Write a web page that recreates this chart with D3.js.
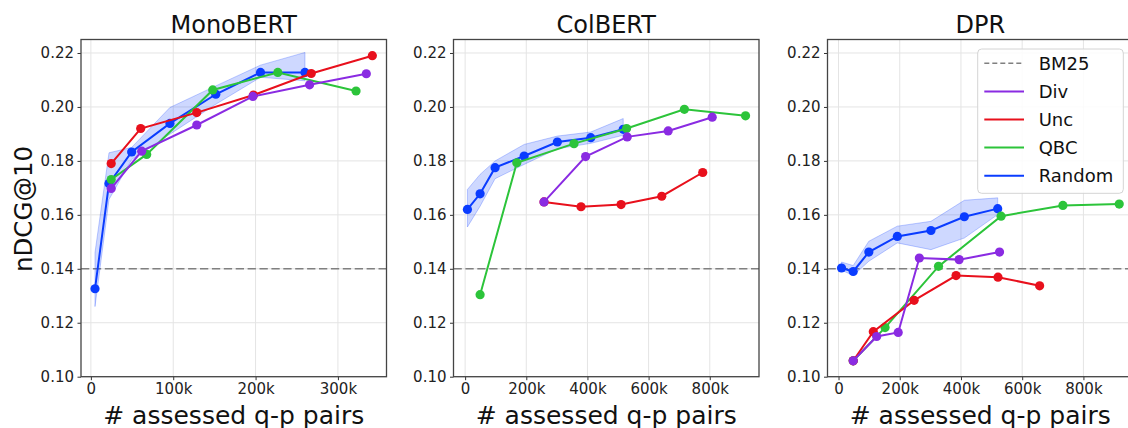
<!DOCTYPE html>
<html>
<head>
<meta charset="utf-8">
<script src="https://cdn.jsdelivr.net/npm/d3@7"></script>
<style>
  html, body { margin: 0; padding: 0; background: #fff; }
  svg { display: block; font-family: "DejaVu Sans", sans-serif; }
</style>
</head>
<body>
<svg id="chart" width="1128" height="428"></svg>
<script>
// ---------- data ----------
const panelTitles = ["MonoBERT", "ColBERT", "DPR"];
const legendLabels = ["BM25", "Div", "Unc", "QBC", "Random"];
const bm25Value = 0.14;
const yTickValues = [0.10, 0.12, 0.14, 0.16, 0.18, 0.20, 0.22];
const monoXTicks = [0, 100000, 200000, 300000];
const wideXTicks = [0, 200000, 400000, 600000, 800000];

// MonoBERT
const monoRandomX  = [5000, 22000, 49500, 96000, 151700, 206000, 260000];
const monoRandomY  = [0.1326, 0.1716, 0.1833, 0.1939, 0.2047, 0.2128, 0.2128];
const monoRandomLo = [0.1260, 0.1657, 0.1805, 0.1899, 0.2010, 0.2110, 0.2097];
const monoRandomHi = [0.1460, 0.1830, 0.1850, 0.1998, 0.2078, 0.2155, 0.2202];
const monoQbcX = [24700, 67800, 148000, 227000, 322000];
const monoQbcY = [0.1731, 0.1824, 0.2063, 0.2128, 0.2059];
const monoUncX = [24700, 60500, 128600, 197500, 267600, 341800];
const monoUncY = [0.1790, 0.1920, 0.1979, 0.2044, 0.2124, 0.2190];
const monoDivX = [24700, 61700, 128600, 196700, 265600, 334500];
const monoDivY = [0.1698, 0.1836, 0.1933, 0.2039, 0.2082, 0.2123];

// ColBERT
const colRandomX  = [7500, 49000, 98000, 193000, 301600, 410800, 517000];
const colRandomY  = [0.1620, 0.1678, 0.1775, 0.1818, 0.1870, 0.1886, 0.1917];
const colRandomLo = [0.1555, 0.1632, 0.1734, 0.1787, 0.1845, 0.1865, 0.1895];
const colRandomHi = [0.1694, 0.1750, 0.1800, 0.1861, 0.1892, 0.1907, 0.1957];
const colQbcX = [49000, 169000, 356000, 528000, 717000, 917000];
const colQbcY = [0.1304, 0.1793, 0.1864, 0.1920, 0.1991, 0.1967];
const colUncX = [258000, 379000, 510000, 643000, 777000];
const colUncY = [0.1648, 0.1630, 0.1638, 0.1669, 0.1757];
const colDivX = [258000, 394000, 530000, 664000, 808000];
const colDivY = [0.1648, 0.1816, 0.1889, 0.1911, 0.1962];

// DPR
const dprRandomX  = [9800, 48000, 99000, 192000, 302000, 411000, 520000];
const dprRandomY  = [0.1403, 0.1390, 0.1462, 0.1520, 0.1542, 0.1593, 0.1623];
const dprRandomLo = [0.1395, 0.1375, 0.1428, 0.1496, 0.1471, 0.1514, 0.1601];
const dprRandomHi = [0.1425, 0.1412, 0.1502, 0.1558, 0.1576, 0.1654, 0.1663];
const dprQbcX = [48000, 152000, 326600, 531000, 733000, 917000];
const dprQbcY = [0.1059, 0.1182, 0.1409, 0.1595, 0.1635, 0.1640];
const dprUncX = [48000, 113600, 247000, 384000, 521000, 657000];
const dprUncY = [0.1059, 0.1167, 0.1283, 0.1375, 0.1369, 0.1337];
const dprDivX = [48000, 124600, 195000, 264000, 394000, 526000];
const dprDivY = [0.1059, 0.1149, 0.1164, 0.1440, 0.1434, 0.1462];

// ---------- styles ----------
const colors = { BM25: "#808080", Div: "#8a2be2", Unc: "#e8101c", QBC: "#2cc43a", Random: "#0a3cff" };

const panels = [
  { title: panelTitles[0], left: 81, xDomain: [-12000, 359000], xTicks: monoXTicks,
    random: [monoRandomX, monoRandomY, monoRandomLo, monoRandomHi],
    series: [["QBC", monoQbcX, monoQbcY], ["Unc", monoUncX, monoUncY], ["Div", monoDivX, monoDivY]] },
  { title: panelTitles[1], left: 453.5, xDomain: [-38000, 961000], xTicks: wideXTicks,
    random: [colRandomX, colRandomY, colRandomLo, colRandomHi],
    series: [["QBC", colQbcX, colQbcY], ["Unc", colUncX, colUncY], ["Div", colDivX, colDivY]] },
  { title: panelTitles[2], left: 827.5, xDomain: [-36000, 962000], xTicks: wideXTicks,
    random: [dprRandomX, dprRandomY, dprRandomLo, dprRandomHi],
    series: [["QBC", dprQbcX, dprQbcY], ["Unc", dprUncX, dprUncY], ["Div", dprDivX, dprDivY]] }
];

const svg = d3.select("#chart");
const plotTop = 39.5, plotBottom = 376.7, pw = 305.5;
const y = d3.scaleLinear().domain([0.10, 0.225]).range([plotBottom, plotTop]);
const fmtX = d => d === 0 ? "0" : (d / 1000) + "k";

panels.forEach((p, i) => {
  const x = d3.scaleLinear().domain(p.xDomain).range([p.left, p.left + pw]);
  const g = svg.append("g");
  const clipId = "clip" + i;
  svg.append("clipPath").attr("id", clipId).append("rect")
    .attr("x", p.left).attr("y", plotTop).attr("width", pw).attr("height", plotBottom - plotTop);

  // grid
  g.append("g").selectAll("line").data(yTickValues).join("line")
    .attr("x1", p.left).attr("x2", p.left + pw)
    .attr("y1", d => y(d)).attr("y2", d => y(d))
    .attr("stroke", "#e4e4e4").attr("stroke-width", 1);
  g.append("g").selectAll("line").data(p.xTicks).join("line")
    .attr("x1", d => x(d)).attr("x2", d => x(d))
    .attr("y1", plotTop).attr("y2", plotBottom)
    .attr("stroke", "#e4e4e4").attr("stroke-width", 1);

  const plot = g.append("g").attr("clip-path", `url(#${clipId})`);

  // BM25
  plot.append("line")
    .attr("x1", p.left).attr("x2", p.left + pw)
    .attr("y1", y(bm25Value)).attr("y2", y(bm25Value))
    .attr("stroke", colors.BM25).attr("stroke-width", 1.5)
    .attr("stroke-dasharray", "8.3,3.6");

  // Random band
  const [rx, ry, rlo, rhi] = p.random;
  const bandData = rx.map((v, k) => ({ x: v, lo: rlo[k], hi: rhi[k] }));
  plot.append("path").datum(bandData)
    .attr("d", d3.area().x(d => x(d.x)).y0(d => y(d.lo)).y1(d => y(d.hi)))
    .attr("fill", colors.Random).attr("fill-opacity", 0.2)
    .attr("stroke", colors.Random).attr("stroke-opacity", 0.25).attr("stroke-width", 1);

  const drawSeries = (name, xs, ys) => {
    const pts = xs.map((v, k) => [v, ys[k]]);
    plot.append("path").datum(pts)
      .attr("d", d3.line().x(d => x(d[0])).y(d => y(d[1])))
      .attr("fill", "none").attr("stroke", colors[name]).attr("stroke-width", 2);
    plot.append("g").selectAll("circle").data(pts).join("circle")
      .attr("cx", d => x(d[0])).attr("cy", d => y(d[1])).attr("r", 4.6)
      .attr("fill", colors[name]);
  };
  drawSeries("Random", rx, ry);
  p.series.forEach(s => drawSeries(s[0], s[1], s[2]));

  // axes
  const yAxis = d3.axisLeft(y).tickValues(yTickValues).tickFormat(d3.format(".2f")).tickSize(3.5).tickPadding(3.5);
  const xAxis = d3.axisBottom(x).tickValues(p.xTicks).tickFormat(fmtX).tickSize(3.5).tickPadding(3.5);
  const ya = g.append("g").attr("transform", `translate(${p.left},0)`).call(yAxis);
  const xa = g.append("g").attr("transform", `translate(0,${plotBottom})`).call(xAxis);
  [ya, xa].forEach(a => {
    a.select(".domain").remove();
    a.selectAll(".tick line").attr("stroke", "#333").attr("stroke-width", 1);
    a.selectAll(".tick text").attr("fill", "#222").style("font-size", "15px")
      .style("font-family", "DejaVu Sans");
  });

  // frame
  g.append("rect").attr("x", p.left).attr("y", plotTop).attr("width", pw).attr("height", plotBottom - plotTop)
    .attr("fill", "none").attr("stroke", "#444").attr("stroke-width", 1.3);

  // title
  g.append("text").attr("x", p.left + pw / 2).attr("y", 33)
    .attr("text-anchor", "middle").style("font-size", "24px").attr("fill", "#111").text(p.title);
  // x label
  g.append("text").attr("x", p.left + pw / 2).attr("y", 423.5)
    .attr("text-anchor", "middle").style("font-size", "25px").attr("fill", "#111").text("# assessed q-p pairs");
});

// y label
svg.append("text").attr("transform", "translate(31.5,209) rotate(-90)")
  .attr("text-anchor", "middle").style("font-size", "24.5px").attr("fill", "#111").text("nDCG@10");

// legend
const lg = svg.append("g");
lg.append("rect").attr("x", 977.7).attr("y", 49).attr("width", 145.6).attr("height", 144.3)
  .attr("rx", 4).attr("fill", "#fff").attr("fill-opacity", 0.85)
  .attr("stroke", "#d4d4d4").attr("stroke-width", 1);
const rowY = d3.scaleLinear().domain([0, 4]).range([63.3, 175.7]);
legendLabels.forEach((name, k) => {
  const yy = rowY(k);
  lg.append("line").attr("x1", 984.3).attr("x2", 1024).attr("y1", yy).attr("y2", yy)
    .attr("stroke", colors[name]).attr("stroke-width", name === "BM25" ? 1.5 : 2)
    .attr("stroke-dasharray", name === "BM25" ? "5,3" : null);
  lg.append("text").attr("x", 1038.7).attr("y", yy).attr("dy", "0.36em")
    .style("font-size", "18px").attr("fill", "#111").text(name);
});
</script>
</body>
</html>
